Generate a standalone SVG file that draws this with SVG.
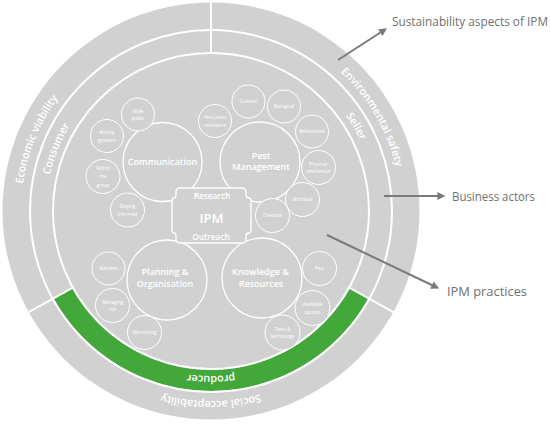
<svg xmlns="http://www.w3.org/2000/svg" xmlns:xlink="http://www.w3.org/1999/xlink" width="550" height="424" viewBox="0 0 550 424">
<style>
.disc{fill:#d1d1d1}
.wl{fill:none;stroke:#fff;stroke-width:2}
.big{fill:#d1d1d1;stroke:#fff;stroke-width:1.3}
.sm{fill:#d1d1d1;stroke:#fff;stroke-width:1}
.t{font-family:"Open Sans","Liberation Sans",sans-serif;fill:#fff;text-anchor:middle}
.ring{font-size:10.8px;font-weight:600}
.bt{font-size:9px;font-weight:600}
.st{font-size:4.6px}
.side{font-family:"Open Sans","Liberation Sans",sans-serif;font-size:12px;fill:#707070}
.arr{stroke:#7a7a7a;stroke-width:2;fill:none}
</style>
<defs>
<marker id="ah" viewBox="0 0 10 10" refX="7" refY="5" markerWidth="4.5" markerHeight="4" orient="auto" markerUnits="strokeWidth">
<path d="M0,0 L10,5 L0,10 z" fill="#7a7a7a"/>
</marker>
<path id="p190" d="M211,21 A190,190 0 1 1 211,401 A190,190 0 1 1 211,21"/>
<path id="p165" d="M211,46 A165,165 0 1 1 211,376 A165,165 0 1 1 211,46"/>
</defs>

<g id="rings">
<circle class="disc" cx="211" cy="211" r="208.5"/>
<path d="M368.4,298.3 A180,180 0 0 1 53.6,298.3 L71.9,288.1 A159,159 0 0 0 350.1,288.1 Z" fill="#43a83a"/>
<circle class="wl" cx="211" cy="211" r="181"/>
<circle class="wl" cx="211" cy="211" r="158"/>
<line class="wl" x1="211" y1="2" x2="211" y2="54"/>
<line class="wl" x1="348.3" y1="287.1" x2="393.8" y2="312.3"/>
<line class="wl" x1="73.7" y1="287.1" x2="28.2" y2="312.3"/>
<text class="t ring"><textPath xlink:href="#p190" startOffset="81.2%">Economic viability</textPath></text>
<text class="t ring"><textPath xlink:href="#p190" startOffset="16.6%">Environmental safety</textPath></text>
<text class="t ring"><textPath xlink:href="#p190" startOffset="50%">Social acceptability</textPath></text>
<text class="t ring"><textPath xlink:href="#p165" startOffset="81.1%">Consumer</textPath></text>
<text class="t ring"><textPath xlink:href="#p165" startOffset="16.6%">Seller</textPath></text>
<text class="t ring"><textPath xlink:href="#p165" startOffset="50%">producer</textPath></text>
</g>

<g id="communication">
<circle class="big" cx="162.5" cy="162" r="39.5"/>
<text class="t bt" x="162.5" y="165">Communication</text>
</g>
<g id="pest-management">
<circle class="big" cx="260" cy="162" r="40"/>
<text class="t bt" x="261" y="159">Pest</text>
<text class="t bt" x="261" y="170">Management</text>
</g>
<g id="planning">
<circle class="big" cx="167" cy="280" r="40"/>
<text class="t bt" x="165" y="275">Planning &amp;</text>
<text class="t bt" x="165" y="286.5">Organisation</text>
</g>
<g id="knowledge">
<circle class="big" cx="262" cy="278" r="40"/>
<text class="t bt" x="260.5" y="275">Knowledge &amp;</text>
<text class="t bt" x="261" y="286.5">Resources</text>
</g>

<g id="wide-public"><circle class="sm" cx="138" cy="114.5" r="16.5"/><text class="t st" x="138" y="112.5">Wide</text><text class="t st" x="138" y="120">public</text></g>
<g id="among-growers"><circle class="sm" cx="107" cy="136" r="16.5"/><text class="t st" x="107" y="134">Among</text><text class="t st" x="107" y="142">growers</text></g>
<g id="within-group"><circle class="sm" cx="103" cy="176.5" r="17"/><text class="t st" x="103" y="170">Within</text><text class="t st" x="103" y="178.3">the</text><text class="t st" x="103" y="186.5">group</text></g>
<g id="staying-informed"><circle class="sm" cx="127.5" cy="210" r="17"/><text class="t st" x="127.5" y="208">Staying</text><text class="t st" x="127.5" y="216">informed</text></g>
<g id="host-plant"><circle class="sm" cx="215" cy="121" r="16.5"/><text class="t st" x="215" y="119">Host plant</text><text class="t st" x="215" y="126.5">resistance</text></g>
<g id="cultural"><circle class="sm" cx="248.5" cy="101.5" r="16.5"/><text class="t st" x="248.5" y="103.3">Cultural</text></g>
<g id="biological"><circle class="sm" cx="284" cy="106.5" r="16.5"/><text class="t st" x="284" y="108.3">Biological</text></g>
<g id="behavioural"><circle class="sm" cx="312" cy="131.5" r="16.5"/><text class="t st" x="312" y="133.3">Behavioural</text></g>
<g id="physical"><circle class="sm" cx="318.5" cy="167.5" r="17"/><text class="t st" x="318.5" y="165.5">Physical/</text><text class="t st" x="318.5" y="173">mechanical</text></g>
<g id="microbial"><circle class="sm" cx="302.5" cy="199.5" r="17"/><text class="t st" x="302.5" y="201.3">Microbial</text></g>
<g id="chemical"><circle class="sm" cx="272.5" cy="215.5" r="17"/><text class="t st" x="272.5" y="217.3">Chemical</text></g>
<g id="advisers"><circle class="sm" cx="108.5" cy="268.5" r="16.5"/><text class="t st" x="108.5" y="270.3">Advisers</text></g>
<g id="managing-risk"><circle class="sm" cx="112.5" cy="305.5" r="17"/><text class="t st" x="112.5" y="303.5">Managing</text><text class="t st" x="112.5" y="311">risk</text></g>
<g id="monitoring"><circle class="sm" cx="144.5" cy="332.5" r="17"/><text class="t st" x="144.5" y="334.3">Monitoring</text></g>
<g id="pest"><circle class="sm" cx="319.5" cy="268.5" r="17"/><text class="t st" x="319.5" y="270.3">Pest</text></g>
<g id="available-options"><circle class="sm" cx="312.5" cy="308" r="17.5"/><text class="t st" x="312.5" y="306">Available</text><text class="t st" x="312.5" y="313.5">options</text></g>
<g id="tools"><circle class="sm" cx="282.5" cy="332.5" r="17.5"/><text class="t st" x="282.5" y="330.5">Tools &amp;</text><text class="t st" x="282.5" y="338">technology</text></g>

<g id="ipm">
<path class="big" d="M180,188 H242 Q246,188 246,192 V195 Q246,198 249,198 Q251,198 251,201 V230 Q251,233 249,233 Q246,233 246,236 V239 Q246,243 242,243 H180 Q176,243 176,239 V236 Q176,233 174,233 Q172,233 172,230 V201 Q172,198 174,198 Q176,198 176,195 V192 Q176,188 180,188 Z"/>
<text class="t" style="font-size:8.3px;font-weight:600" x="212" y="199">Research</text>
<text class="t" style="font-size:13px;font-weight:600" x="211.5" y="222.5">IPM</text>
<text class="t" style="font-size:8.3px;font-weight:600" x="211" y="240">Outreach</text>
</g>

<g id="connectors">
<line class="arr" x1="338" y1="60" x2="385" y2="29.5" marker-end="url(#ah)"/>
<line class="arr" x1="384" y1="196" x2="443" y2="196" marker-end="url(#ah)"/>
<line class="arr" x1="327" y1="235" x2="437" y2="287.5" marker-end="url(#ah)"/>
</g>

<g id="labels">
<text class="side" x="392" y="26" textLength="156" lengthAdjust="spacingAndGlyphs">Sustainability aspects of IPM</text>
<text class="side" x="452" y="200.5" textLength="83" lengthAdjust="spacingAndGlyphs">Business actors</text>
<text class="side" x="447" y="295.5" textLength="80" lengthAdjust="spacingAndGlyphs">IPM practices</text>
</g>
</svg>
